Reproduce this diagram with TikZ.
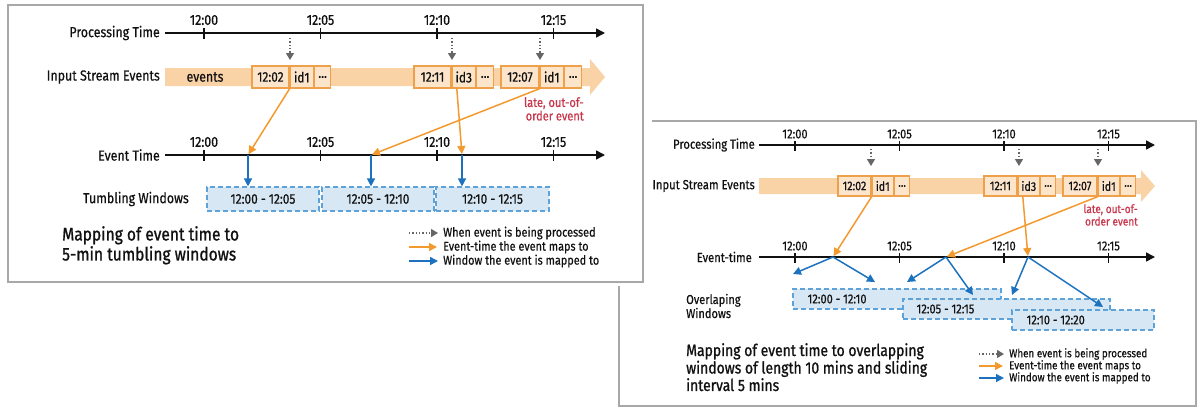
\documentclass[tikz,border=0pt]{standalone}
\usepackage{fontspec}
\setmainfont{Fira Sans}[FakeStretch=0.85,FakeBold=0.5]
\newfontfamily\capfont{Fira Sans}[FakeStretch=0.85,FakeBold=1.0]
\usetikzlibrary{arrows.meta,positioning}

\definecolor{bandorange}{HTML}{F9D3A6}
\definecolor{cellfill}{HTML}{FCE5CB}
\definecolor{cellline}{HTML}{EFA04A}
\definecolor{maporange}{HTML}{F39A2E}
\definecolor{mapblue}{HTML}{1C72BE}
\definecolor{winfill}{HTML}{D7E7F4}
\definecolor{winline}{HTML}{5DA2D8}
\definecolor{latered}{HTML}{C8364B}
\definecolor{procgray}{HTML}{666666}
\definecolor{framegray}{HTML}{A8A8A8}
\definecolor{inkgray}{HTML}{111111}

\tikzset{
  frame/.style={draw=framegray, line width=1.3pt},
  axis/.style={inkgray, line width=1.6pt, -{Triangle[length=9pt,width=9pt]}},
  tickmark/.style={inkgray, line width=1.5pt},
  ticklbl/.style={inner sep=0pt, text=inkgray, font=\fontsize{14.5}{16}\selectfont},
  rowlbl/.style={anchor=east, inner sep=0pt, text=inkgray, font=\fontsize{14.6}{16}\selectfont},
  cell/.style={draw=cellline, fill=cellfill, line width=1.3pt, minimum height=22pt,
    inner sep=0pt, text=inkgray, font=\fontsize{14}{16}\selectfont},
  late/.style={align=right, inner sep=0pt, text=latered, font=\fontsize{13}{13.5}\selectfont},
  procarrow/.style={procgray, dotted, line width=1.3pt, -{Triangle[length=7pt,width=8pt]}},
  maparrow/.style={maporange, line width=1.5pt, -{Triangle[length=8pt,width=8pt]}, shorten >=1pt},
  winarrow/.style={mapblue, line width=1.5pt, -{Triangle[length=8pt,width=8pt]}},
  winbox/.style={draw=winline, fill=winfill, dash pattern=on 5pt off 3pt, line width=1.2pt,
    minimum height=24pt, inner sep=0pt, text=inkgray, font=\fontsize{14}{16}\selectfont},
  title/.style={align=left, inner sep=0pt, text=inkgray},
  legtxt/.style={anchor=west, inner sep=0pt, text=inkgray},
}

\begin{document}
\begin{tikzpicture}[x=1pt,y=-1pt]
\useasboundingbox (0,0) rectangle (1200,416);

% frames, the left one lies over the right one
\draw[frame] (619,121) rectangle (1196,406);
\fill[white] (0,0) rectangle (652,286);
\draw[frame, fill=white] (8,5) rectangle (643,282);

% ---------- left: tumbling windows ----------
% Processing time
\node[rowlbl] (lpt) at (160,33) {Processing Time};
\coordinate (lpa) at (165,33);
\coordinate (lpb) at (605,33);
\draw[axis] (lpa) -- (lpb);
\foreach \lbl [count=\i from 0] in {12:00,12:05,12:10,12:15} {
  \draw[tickmark] (204+116.5*\i,28) -- (204+116.5*\i,39);
  \node[ticklbl] (lp\i) at (204+116.5*\i,20) {\lbl};
}
\foreach \x [count=\i] in {290,452,540} {
  \coordinate (lq\i) at (\x,38);
  \coordinate (lr\i) at (\x,60);
  \draw[procarrow] (lq\i) -- (lr\i);
}

% Input stream
\node[rowlbl] (lin) at (160,77) {Input Stream Events};
\fill[bandorange] (165,68) -- (590,68) -- (590,59) -- (605,77) -- (590,95) -- (590,86) -- (165,86) -- cycle;
\node[ticklbl] (lev) at (205,77) {events};
\node[cell, minimum width=37pt] (a1) at (270.5,77) {12:02};
\node[cell, minimum width=23pt, right=0pt of a1] (a2) {id1};
\node[cell, minimum width=16pt, right=0pt of a2] (a3) {...};
\node[cell, minimum width=37pt] (b1) at (432.5,77) {12:11};
\node[cell, minimum width=23pt, right=0pt of b1] (b2) {id3};
\node[cell, minimum width=17pt, right=0pt of b2] (b3) {...};
\node[cell, minimum width=38pt] (c1) at (520,77) {12:07};
\node[cell, minimum width=23pt, right=0pt of c1] (c2) {id1};
\node[cell, minimum width=17pt, right=0pt of c2] (c3) {...};
\node[late, anchor=north east] (llate) at (584,97) {late, out-of-\\order event};

% Event time
\node[rowlbl] (let) at (160,155) {Event Time};
\coordinate (lea) at (165,155);
\coordinate (leb) at (605,155);
\draw[axis] (lea) -- (leb);
\foreach \lbl [count=\i from 0] in {12:00,12:05,12:10,12:15} {
  \draw[tickmark] (204+116.5*\i,150) -- (204+116.5*\i,161);
  \node[ticklbl] (le\i) at (204+116.5*\i,142) {\lbl};
}
\coordinate (lt02) at (248,155);
\coordinate (lt07) at (371,155);
\coordinate (lt11) at (462,155);
\draw[maparrow] (a1.south east) -- (lt02);
\draw[maparrow] ([xshift=-7pt]b2.south) -- (lt11);
\draw[maparrow] (c1.south east) -- (lt07);

% Tumbling windows
\node[rowlbl] (ltw) at (189,199) {Tumbling Windows};
\node[winbox, minimum width=112pt] (lw1) at (263,199) {12:00 - 12:05};
\node[winbox, minimum width=112pt] (lw2) at (378,199) {12:05 - 12:10};
\node[winbox, minimum width=113pt] (lw3) at (492.5,199) {12:10 - 12:15};
\draw[winarrow] (lt02) -- (lt02 |- lw1.north);
\draw[winarrow] (lt07) -- (lt07 |- lw2.north);
\draw[winarrow] (lt11) -- (lt11 |- lw3.north);

% caption and legend
\node[title, anchor=north west, font=\capfont\fontsize{18.3}{20}\selectfont] (ltitle) at (62,226)
  {Mapping of event time to\\5-min tumbling windows};
\coordinate (lk1a) at (409,233); \coordinate (lk1b) at (438,233);
\coordinate (lk2a) at (409,247); \coordinate (lk2b) at (438,247);
\coordinate (lk3a) at (409,261); \coordinate (lk3b) at (438,261);
\draw[procarrow] (lk1a) -- (lk1b);
\draw[maparrow] (lk2a) -- (lk2b);
\draw[winarrow] (lk3a) -- (lk3b);
\node[legtxt, font=\fontsize{12.8}{14}\selectfont] (lk1) at (443,233) {When event is being processed};
\node[legtxt, font=\fontsize{12.8}{14}\selectfont] (lk2) at (443,247) {Event-time the event maps to};
\node[legtxt, font=\fontsize{12.8}{14}\selectfont] (lk3) at (443,261) {Window the event is mapped to};

% ---------- right: sliding windows ----------
% Processing time
\node[rowlbl, font=\fontsize{13.2}{15}\selectfont] (rpt) at (755,145) {Processing Time};
\coordinate (rpa) at (759,145);
\coordinate (rpb) at (1155,145);
\draw[axis] (rpa) -- (rpb);
\foreach \lbl [count=\i from 0] in {12:00,12:05,12:10,12:15} {
  \draw[tickmark] (795+104.5*\i,141) -- (795+104.5*\i,151);
  \node[ticklbl, font=\fontsize{13}{15}\selectfont] (rp\i) at (795+104.5*\i,134) {\lbl};
}
\foreach \x [count=\i] in {871,1019,1098} {
  \coordinate (rq\i) at (\x,149);
  \coordinate (rr\i) at (\x,166);
  \draw[procarrow] (rq\i) -- (rr\i);
}

% Input stream
\node[rowlbl, font=\fontsize{13.2}{15}\selectfont] (rin) at (755,186) {Input Stream Events};
\fill[bandorange] (759,178) -- (1141,178) -- (1141,170) -- (1155,186) -- (1141,202) -- (1141,194) -- (759,194) -- cycle;
\node[cell, minimum width=33pt, minimum height=20pt, font=\fontsize{12.6}{14}\selectfont] (d1) at (854.5,186) {12:02};
\node[cell, minimum width=21pt, minimum height=20pt, right=0pt of d1, font=\fontsize{12.6}{14}\selectfont] (d2) {id1};
\node[cell, minimum width=15pt, minimum height=20pt, right=0pt of d2, font=\fontsize{12.6}{14}\selectfont] (d3) {...};
\node[cell, minimum width=33pt, minimum height=20pt, font=\fontsize{12.6}{14}\selectfont] (e1) at (1000.5,186) {12:11};
\node[cell, minimum width=21pt, minimum height=20pt, right=0pt of e1, font=\fontsize{12.6}{14}\selectfont] (e2) {id3};
\node[cell, minimum width=15pt, minimum height=20pt, right=0pt of e2, font=\fontsize{12.6}{14}\selectfont] (e3) {...};
\node[cell, minimum width=34pt, minimum height=20pt, font=\fontsize{12.6}{14}\selectfont] (f1) at (1080,186) {12:07};
\node[cell, minimum width=21pt, minimum height=20pt, right=0pt of f1, font=\fontsize{12.6}{14}\selectfont] (f2) {id1};
\node[cell, minimum width=15pt, minimum height=20pt, right=0pt of f2, font=\fontsize{12.6}{14}\selectfont] (f3) {...};
\node[late, anchor=north east, font=\fontsize{11.8}{12.5}\selectfont] (rlate) at (1138,204) {late, out-of-\\order event};

% Event time
\node[rowlbl, font=\fontsize{13.2}{15}\selectfont] (ret) at (752,257) {Event-time};
\coordinate (rea) at (759,257);
\coordinate (reb) at (1155,257);
\draw[axis] (rea) -- (reb);
\foreach \lbl [count=\i from 0] in {12:00,12:05,12:10,12:15} {
  \draw[tickmark] (795+104.5*\i,253) -- (795+104.5*\i,263);
  \node[ticklbl, font=\fontsize{13}{15}\selectfont] (re\i) at (795+104.5*\i,246) {\lbl};
}
\coordinate (rt02) at (833,257);
\coordinate (rt07) at (946,257);
\coordinate (rt11) at (1028,257);
\draw[maparrow] (d1.south east) -- (rt02);
\draw[maparrow] ([xshift=-6pt]e2.south) -- (rt11);
\draw[maparrow] (f1.south east) -- (rt07);

% Overlapping windows
\node[title, anchor=west, font=\fontsize{13}{14}\selectfont] (row) at (686,306) {Overlaping\\Windows};
\node[winbox, minimum width=208pt, minimum height=20pt] (rw1) at (897,299) {};
\node[winbox, minimum width=207pt, minimum height=20pt] (rw2) at (1006.5,309) {};
\node[winbox, minimum width=142pt, minimum height=20pt] (rw3) at (1083,320) {};
\node[ticklbl, anchor=west, right=15pt of rw1.west, font=\fontsize{13}{15}\selectfont] (rw1l) {12:00 - 12:10};
\node[ticklbl, anchor=west, right=14pt of rw2.west, font=\fontsize{13}{15}\selectfont] (rw2l) {12:05 - 12:15};
\node[ticklbl, anchor=west, right=15pt of rw3.west, font=\fontsize{13}{15}\selectfont] (rw3l) {12:10 - 12:20};
\coordinate (rm1) at (793,274); \coordinate (rm2) at (875,282);
\coordinate (rm3) at (907,282); \coordinate (rm4) at (973,295);
\coordinate (rm5) at (1012,295); \coordinate (rm6) at (1103,307);
\draw[winarrow] (rt02) -- (rm1);
\draw[winarrow] (rt02) -- (rm2);
\draw[winarrow] (rt07) -- (rm3);
\draw[winarrow] (rt07) -- (rm4);
\draw[winarrow] (rt11) -- (rm5);
\draw[winarrow] (rt11) -- (rm6);

% caption and legend
\node[title, anchor=north west, font=\capfont\fontsize{16.4}{17.5}\selectfont] (rtitle) at (686,343)
  {Mapping of event time to overlapping\\windows of length 10 mins and sliding\\interval 5 mins};
\coordinate (rk1a) at (979,354); \coordinate (rk1b) at (1004,354);
\coordinate (rk2a) at (979,366); \coordinate (rk2b) at (1004,366);
\coordinate (rk3a) at (979,378); \coordinate (rk3b) at (1004,378);
\draw[procarrow] (rk1a) -- (rk1b);
\draw[maparrow] (rk2a) -- (rk2b);
\draw[winarrow] (rk3a) -- (rk3b);
\node[legtxt, font=\fontsize{11.6}{12}\selectfont] (rk1) at (1009,354) {When event is being processed};
\node[legtxt, font=\fontsize{11.6}{12}\selectfont] (rk2) at (1009,366) {Event-time the event maps to};
\node[legtxt, font=\fontsize{11.6}{12}\selectfont] (rk3) at (1009,378) {Window the event is mapped to};
\end{tikzpicture}
\end{document}
